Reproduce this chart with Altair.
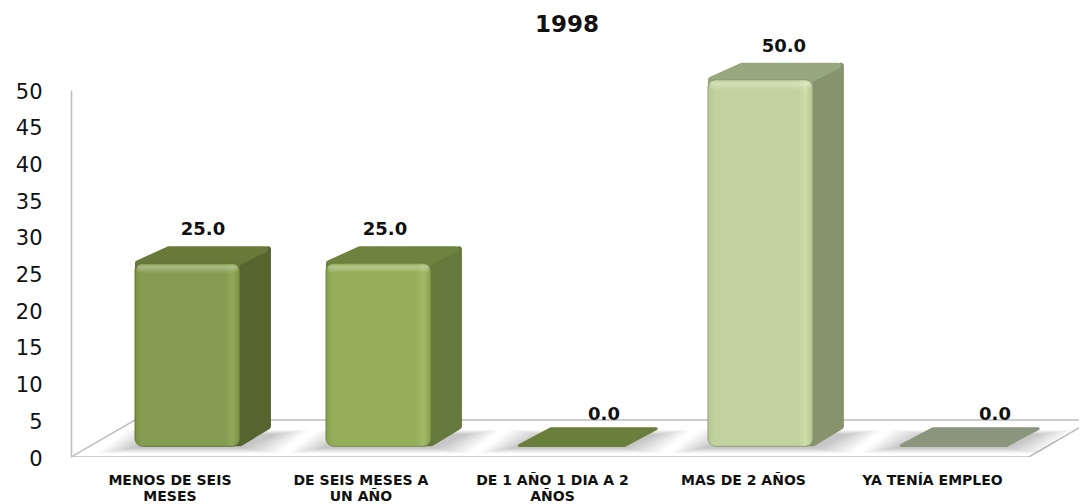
import altair as alt
import pandas as pd

title_text = "1998"
categories = [["MENOS DE SEIS", "MESES"], ["DE SEIS MESES A", "UN AÑO"], ["DE 1 AÑO 1 DIA A 2", "AÑOS"], ["MAS DE 2 AÑOS"], ["YA TENÍA EMPLEO"]]
values = [25.0, 25.0, 0.0, 50.0, 0.0]
front_light = ["#859D50", "#94AE5A", "#6B7F3C", "#C1D29E", "#8B957D"]
front_dark = ["#78903F", "#879F4C", "#6B7F3C", "#B4C68E", "#8B957D"]
front_glow = ["#8FA85A", "#A0BA66", "#6B7F3C", "#CDDEA8", "#8B957D"]
top_colors = ["#68793A", "#6E833F", "#6B7F3C", "#98A87E", "#8B957D"]
side_colors = ["#566530", "#66793C", "#6B7F3C", "#87936D", "#8B957D"]
value_label_nudge = [0.081, 0.034, 0.181, 0.123, 0.228]
category_label_nudge = [-0.092, -0.092, -0.089, -0.089, -0.099]

# geometry, in scale units (x: one bar step, y: axis value)
PX = 1 / 191
PY = 50 / 367
HALF = 0.275
DX = 0.162
DY = 2.32
BASE = 1.45
LIFT = 1.4
XDOM = [-0.61, 4.668]
YDOM = [0, 50]
xs = alt.Scale(domain=XDOM, nice=False, zero=False)
ys = alt.Scale(domain=YDOM, nice=False)
y_axis = alt.Axis(
    values=list(range(0, 55, 5)), ticks=False, grid=False, domainColor="#BDBDBD", domainWidth=1.5,
    labelFont="DejaVu Sans", labelFontSize=21, labelColor="#111111", labelPadding=29, labelOffset=2, title=None)
X = lambda f: alt.X(f, type="quantitative", scale=xs, axis=None)
X2 = lambda f: alt.X2(f)
Y = lambda f: alt.Y(f, type="quantitative", scale=ys, axis=y_axis)
Y2 = lambda f: alt.Y2(f)

# floor outline
floor = pd.DataFrame({
    "x": [-0.61, 4.405, 4.74, -0.275, -0.61],
    "y": [0, 0, 5.04, 5.04, 0],
    "o": [0, 1, 2, 3, 4],
})
layers = [alt.Chart(floor).mark_line(color="#BDBDBD", strokeWidth=1.5, clip=True).encode(
    x=X("x"), y=Y("y"), order="o:Q")]

# soft floor shadows: stacked translucent parallelograms
LEVELS = 14
for k in range(LEVELS):
    t = k / (LEVELS - 1)
    spread = 0.20 - 0.17 * t
    rows = []
    for i in range(5):
        y0 = 0.5 + t * 0.7
        y1 = 3.7 - t * 0.6
        rows += [
            {"i": i, "y": y0, "a": i - HALF - spread, "b": i + HALF + spread},
            {"i": i, "y": y1, "a": i - HALF - spread + DX, "b": i + HALF + spread + DX},
        ]
    layers.append(
        alt.Chart(pd.DataFrame(rows)).mark_area(orient="horizontal", color="#000000", opacity=0.016, clip=True).encode(
            y=Y("y"), x=X("a"), x2=X2("b"), detail="i:N")
    )

INSET_X = 3 * PX
INSET_Y = 3 * PY
for i, v in enumerate(values):
    left, right = i - HALF, i + HALF
    top = v + LIFT if v > 0 else BASE
    c_side, c_top = side_colors[i], top_colors[i]
    if v > 0:
        side = pd.DataFrame({
            "x": [right - 0.04, right, right + DX - INSET_X],
            "lo": [BASE + INSET_Y, BASE + INSET_Y, BASE + DY + INSET_Y],
            "hi": [top, top, top + DY - INSET_Y],
        })
        layers.append(alt.Chart(side).mark_area(color=c_side, stroke=c_side, strokeWidth=6, strokeJoin="round").encode(
            x=X("x"), y=Y("lo"), y2=Y2("hi")))
        roof = pd.DataFrame({
            "y": [top - 1.2, top, top + DY - INSET_Y],
            "a": [left + INSET_X, left + INSET_X, left + DX + INSET_X],
            "b": [right - INSET_X, right - INSET_X, right + DX - 2 * INSET_X],
        })
        layers.append(alt.Chart(roof).mark_area(orient="horizontal", color=c_top, stroke=c_top, strokeWidth=6, strokeJoin="round").encode(
            y=Y("y"), x=X("a"), x2=X2("b")))
        face = pd.DataFrame({"a": [left], "b": [right], "lo": [BASE], "hi": [top]})
        grad = alt.Gradient(gradient="linear", x1=0, x2=1, y1=0, y2=0, stops=[
            alt.GradientStop(color=front_dark[i], offset=0),
            alt.GradientStop(color=front_light[i], offset=0.06),
            alt.GradientStop(color=front_light[i], offset=0.86),
            alt.GradientStop(color=front_glow[i], offset=0.93),
            alt.GradientStop(color=front_dark[i], offset=1),
        ])
        layers.append(alt.Chart(face).mark_bar(color=grad, cornerRadius=8, stroke=c_side, strokeWidth=0.8).encode(
            x=X("a"), x2=X2("b"), y=Y("lo"), y2=Y2("hi")))
        rim = alt.Gradient(gradient="linear", x1=0, x2=0, y1=0, y2=1, stops=[
            alt.GradientStop(color="rgba(255,255,255,0.0)", offset=0),
            alt.GradientStop(color="rgba(255,255,255,0.30)", offset=0.3),
            alt.GradientStop(color="rgba(255,255,255,0.0)", offset=1),
        ])
        rim_df = pd.DataFrame({"a": [left + 0.012], "b": [right - 0.012], "lo": [top - 1.4], "hi": [top - 0.1]})
        layers.append(alt.Chart(rim_df).mark_bar(color=rim, cornerRadius=3).encode(
            x=X("a"), x2=X2("b"), y=Y("lo"), y2=Y2("hi")))
    else:
        roof = pd.DataFrame({
            "y": [top + 1.5 * PY - 0.1, top + DY - 1.5 * PY + 0.3],
            "a": [left + 1.5 * PX + 0.005, left + DX + 1.5 * PX + 0.01],
            "b": [right - 1.5 * PX + 0.02, right + DX - 1.5 * PX + 0.025],
        })
        layers.append(alt.Chart(roof).mark_area(orient="horizontal", color=c_top, stroke=c_top, strokeWidth=3, strokeJoin="round").encode(
            y=Y("y"), x=X("a"), x2=X2("b")))

# value labels
val_df = pd.DataFrame({
    "x": [i + n for i, n in enumerate(value_label_nudge)],
    "y": [(v + LIFT + DY) if v > 0 else (BASE + DY - 2 * PY) for v in values],
    "t": [f"{v:.1f}" for v in values],
})
layers.append(alt.Chart(val_df).mark_text(font="DejaVu Sans", fontSize=18, fontWeight="bold", color="#111111",
                                          baseline="middle", dy=-16).encode(x=X("x"), y=Y("y"), text="t:N"))

# category labels
cat_rows = []
for i, lines in enumerate(categories):
    for j, line in enumerate(lines):
        cat_rows.append({"x": i + category_label_nudge[i], "line": j, "t": line})
cat_df = pd.DataFrame(cat_rows)
for j, offset in enumerate([24, 40]):
    layers.append(alt.Chart(cat_df[cat_df.line == j]).mark_text(
        font="DejaVu Sans", fontSize=14, fontWeight="bold", color="#111111", baseline="middle", dy=offset
    ).encode(x=X("x"), y=alt.value(367), text="t:N"))

# title
title_df = pd.DataFrame({"x": [1.987], "t": [title_text]})
layers.append(alt.Chart(title_df).mark_text(
    font="DejaVu Sans", fontSize=23, fontWeight="bold", color="#111111", baseline="middle"
).encode(x=X("x"), y=alt.value(-65), text="t:N"))

chart = alt.layer(*layers).properties(
    width=1008, height=367,
    autosize=alt.AutoSizeParams(type="none"),
    padding={"left": 63, "top": 82, "right": 0, "bottom": 47},
).configure_view(stroke=None)

chart.save("out.html", embed_options={"renderer": "svg", "actions": False})
